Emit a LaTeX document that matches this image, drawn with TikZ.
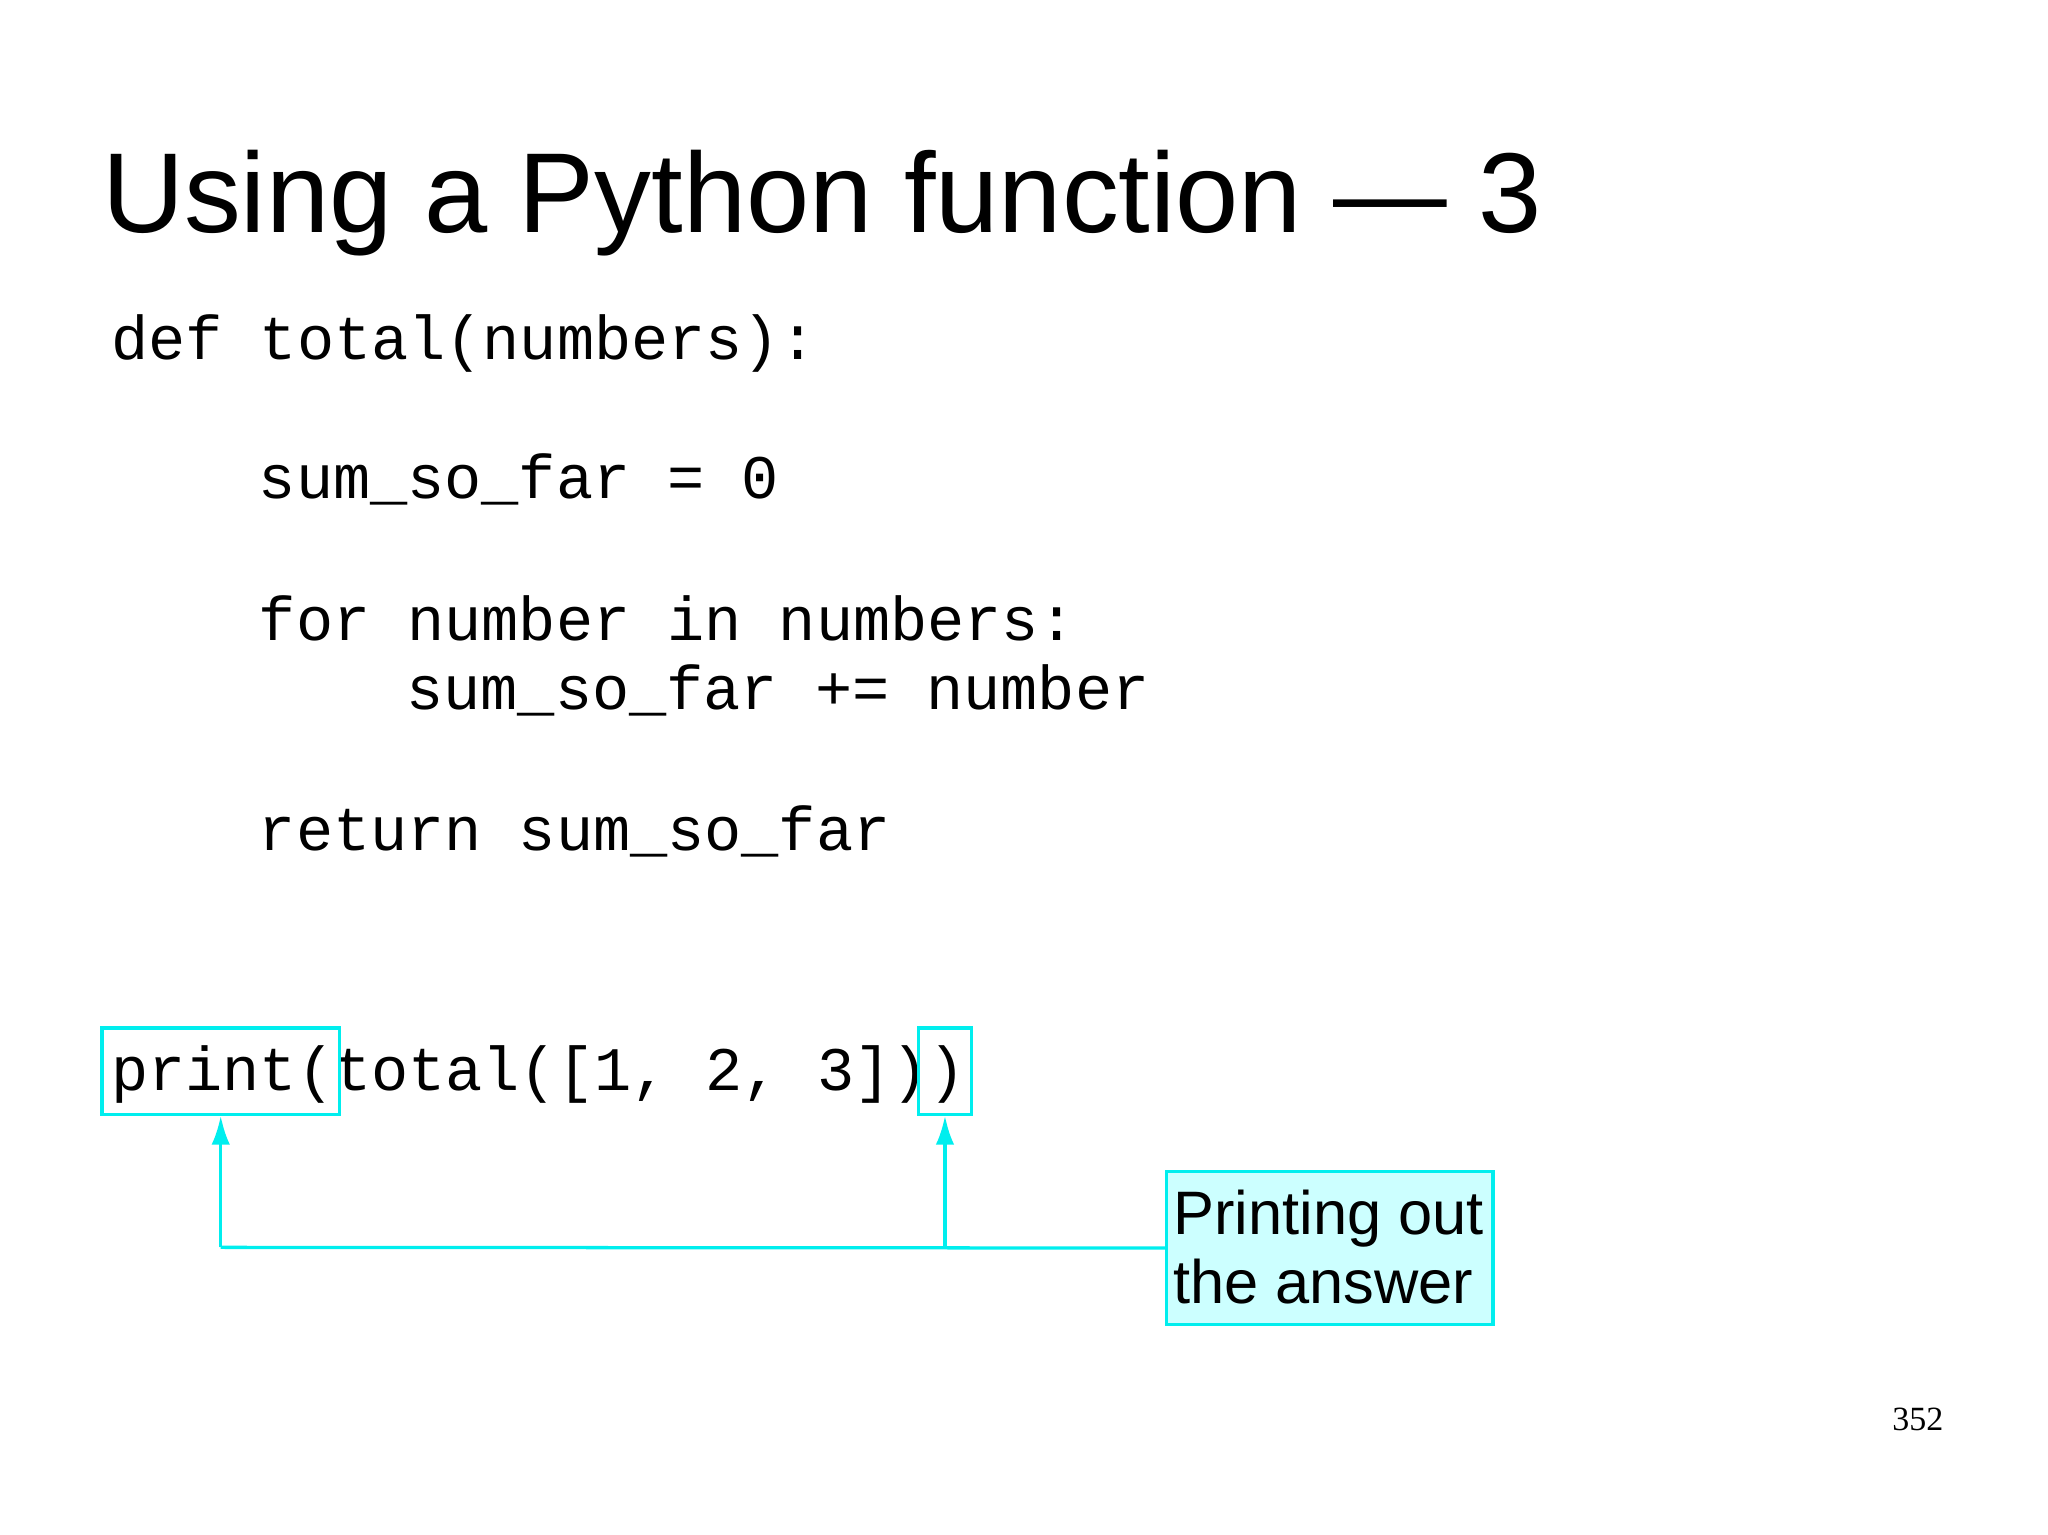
\documentclass[tikz,border=0pt]{standalone}
\usepackage{fontspec}
\setmainfont{Liberation Sans}
\newfontfamily\codefont{Liberation Mono}
\newfontfamily\numfont{Liberation Serif}
\usetikzlibrary{arrows.meta}
\definecolor{cy}{RGB}{0,238,238}
\definecolor{lcy}{RGB}{204,255,255}
\begin{document}
\begin{tikzpicture}[x=1pt,y=-1pt,
  code/.style={anchor=base west,inner sep=0pt,font=\codefont\fontsize{47.4}{50}\selectfont},
  hbox/.style={draw=cy,line width=2.5pt,inner sep=0pt},
  arr/.style={draw=cy,line width=2.5pt,-{Latex[length=22pt,width=14pt]}}]
\useasboundingbox (0,0) rectangle (1568,1175);
\node[anchor=base west,inner sep=0pt,font=\fontsize{87}{95}\selectfont] (title) at (78,178) {Using a Python function — 3};
\node[code] (l1) at (85,275) {def total(numbers):};
\node[code] (l2) at (198,382) {sum\_so\_far = 0};
\node[code] (l3) at (198,490) {for number in numbers:};
\node[code] (l4) at (311,543) {sum\_so\_far += number};
\node[code] (l5) at (198,651) {return sum\_so\_far};
\node[code] (l6) at (85,835) {print(total([1, 2, 3]))};
\node[hbox,minimum width=182pt,minimum height=66pt] (pb) at (169,820) {};
\node[hbox,minimum width=41pt,minimum height=66pt] (cb) at (723.5,820) {};
\node[draw=cy,fill=lcy,line width=2.5pt,minimum width=250pt,minimum height=117pt,inner sep=0pt] (lab) at (1018,955.5) {};
\node[anchor=west,inner sep=0pt,align=left,font=\fontsize{47}{53}\selectfont] (labt) at (898,955) {Printing out\\the answer};
\coordinate (c1) at (169,955);
\coordinate (c2) at (723.5,955);
\draw[draw=cy,line width=2.5pt] (lab.west) -- (c1);
\draw[arr] (c1) -- (pb.south);
\draw[arr] (c2) -- (cb.south);
\node[anchor=base east,inner sep=0pt,font=\numfont\fontsize{26}{28}\selectfont] (pn) at (1488,1095) {352};
\end{tikzpicture}
\end{document}
